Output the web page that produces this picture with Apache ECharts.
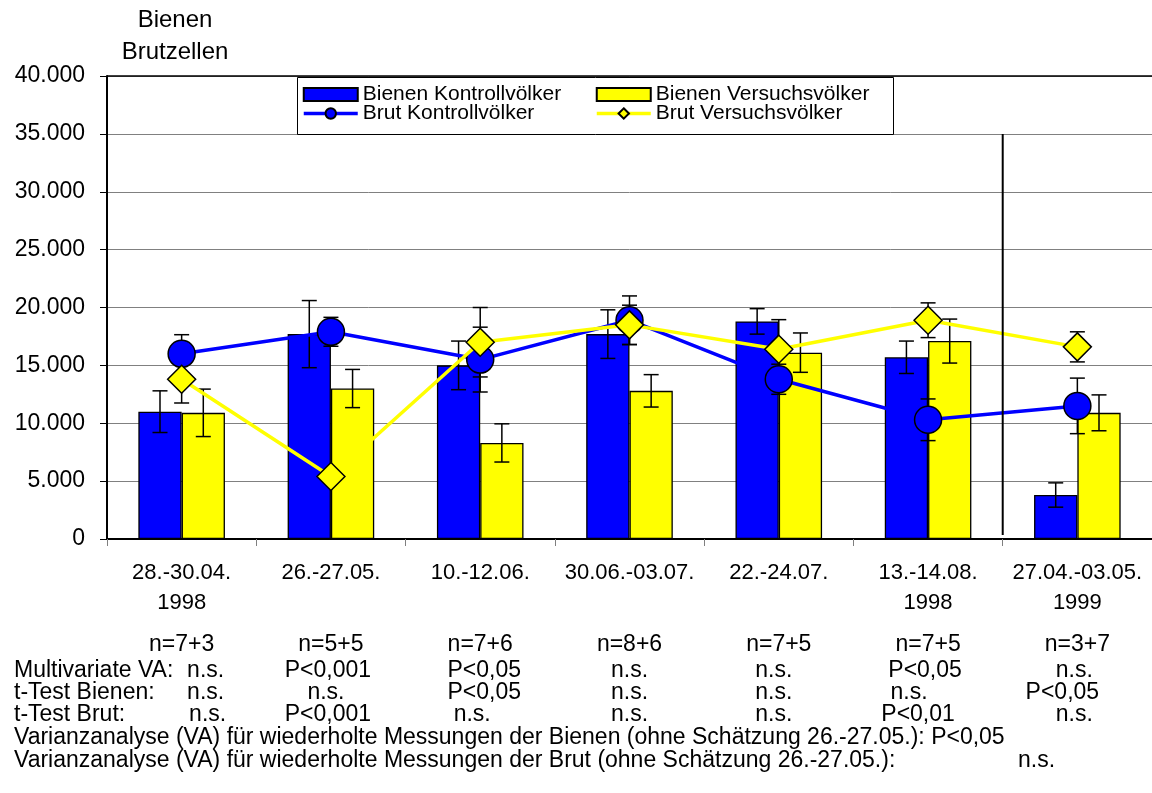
<!DOCTYPE html>
<html><head><meta charset="utf-8">
<script src="https://cdn.jsdelivr.net/npm/echarts@6/dist/echarts.min.js"></script>
<style>html,body{margin:0;padding:0;background:#fff}#c{width:1152px;height:793px}</style>
</head><body><div id="c"></div>
<script>
// ---------- data ----------
const categories = ['28.-30.04.\n1998','26.-27.05.','10.-12.06.','30.06.-03.07.','22.-24.07.','13.-14.08.\n1998','27.04.-03.05.\n1999'];
const bienenKontroll    = [11000, 17700, 15000, 17700, 18800, 15700, 3800];
const bienenKontrollErr = [1800, 2900, 2100, 2100, 1100, 1400, 1050];
const bienenVersuch     = [10900, 13000, 8300, 12800, 16100, 17100, 10900];
const bienenVersuchErr  = [2050, 1650, 1650, 1400, 1700, 1900, 1550];
const brutKontroll      = [16000, 17900, 15500, 18900, 13800, 10300, 11500];
const brutKontrollErr   = [1650, 1250, 2800, 2100, 1300, 1800, 2400];
const brutVersuch       = [13800, 5400, 17000, 18500, 16400, 18900, 16600];
const brutVersuchErr    = [2050, null, 3000, 1700, 2550, 1500, 1300];
const yTickLabels = ['0','5.000','10.000','15.000','20.000','25.000','30.000','35.000','40.000'];
const seriesNames = ['Bienen Kontrollvölker','Bienen Versuchsvölker','Brut Kontrollvölker','Brut Versuchsvölker'];
const titleLines = ['Bienen','Brutzellen'];
const nLabels = ['n=7+3','n=5+5','n=7+6','n=8+6','n=7+5','n=7+5','n=3+7'];
const rowLabels = ['Multivariate VA:','t-Test Bienen:','t-Test Brut:'];
const multiVA  = ['n.s.','P<0,001','P<0,05','n.s.','n.s.','P<0,05','n.s.'];
const tBienen  = ['n.s.','n.s.','P<0,05','n.s.','n.s.','n.s.','P<0,05'];
const tBrut    = ['n.s.','P<0,001','n.s.','n.s.','n.s.','P<0,01','n.s.'];
const varLine1 = 'Varianzanalyse (VA) für wiederholte Messungen der Bienen (ohne Schätzung 26.-27.05.): P<0,05';
const varLine2 = 'Varianzanalyse (VA) für wiederholte Messungen der Brut (ohne Schätzung 26.-27.05.):';
const varLine2Result = 'n.s.';

// ---------- layout (not data) ----------
const FONT = "'Liberation Sans', Arial, sans-serif";
const cellOffsets = [
  [24, -3, 4, 0, -5, -3, -3],
  [24, -5, 4, 0, -5, -19, -15],
  [26, -3, -8, 0, -5, -10, -3]
];
const rowY = [671, 693, 715];

const chart = echarts.init(document.getElementById('c'), null, {renderer:'canvas'});

function errData(vals, errs){
  const out = [];
  vals.forEach((v,i)=>{ if (errs[i] != null) out.push([i, v, errs[i]]); });
  return out;
}
function errRender(side){
  return function(params, api){
    const i = api.value(0), v = api.value(1), e = api.value(2);
    const band = api.size([1,0])[0];
    const dx = side * band * 0.58 / 4;
    const top = api.coord([i, v + e]);
    const bot = api.coord([i, v - e]);
    const x = top[0] + dx, h = 7.5;
    const st = {stroke:'#000', lineWidth:1.5};
    return {type:'group', children:[
      {type:'line', shape:{x1:x,y1:top[1],x2:x,y2:bot[1]}, style:st},
      {type:'line', shape:{x1:x-h,y1:top[1],x2:x+h,y2:top[1]}, style:st},
      {type:'line', shape:{x1:x-h,y1:bot[1],x2:x+h,y2:bot[1]}, style:st}
    ]};
  };
}

const legendCommon = {
  orient:'vertical', top:79, padding:[5,5,5,5], itemWidth:54, itemHeight:13, itemGap:-2,
  textStyle:{fontFamily:FONT, fontSize:21, color:'#000'},
  z:10, selectedMode:false
};

chart.setOption({
  animation:false,
  backgroundColor:'#fff',
  textStyle:{fontFamily:FONT},
  grid:{left:107, right:0, top:76, bottom:254, containLabel:false},
  legend:[
    Object.assign({left:297, data:[{name:seriesNames[0], icon:'rect'}, {name:seriesNames[2], lineStyle:{width:3.5}}]}, legendCommon),
    Object.assign({left:590, data:[{name:seriesNames[1], icon:'rect'}, {name:seriesNames[3], lineStyle:{width:3.5}}]}, legendCommon)
  ],
  xAxis:{
    type:'category', data:categories, boundaryGap:true,
    axisLine:{lineStyle:{color:'#000', width:2}},
    axisTick:{show:true, length:7, alignWithLabel:false, lineStyle:{color:'#808080', width:1}},
    axisLabel:{interval:0, fontFamily:FONT, fontSize:22, color:'#000', lineHeight:30, margin:19},
    splitLine:{show:false}
  },
  yAxis:{
    type:'value', min:0, max:40000, interval:5000,
    axisLine:{show:true, lineStyle:{color:'#000', width:2}},
    axisTick:{show:true, length:7, lineStyle:{color:'#000', width:1}},
    axisLabel:{fontFamily:FONT, fontSize:23, color:'#000', margin:22,
      formatter:(v)=>yTickLabels[Math.round(v/5000)]},
    splitLine:{show:true, lineStyle:{color:'#808080', width:1}}
  },
  series:[
    {name:seriesNames[0], type:'bar', data:bienenKontroll, barGap:'0%', barCategoryGap:'42%',
      itemStyle:{color:'#0000FF', borderColor:'#000', borderWidth:1.3}, z:2},
    {name:seriesNames[1], type:'bar', data:bienenVersuch, barGap:'0%', barCategoryGap:'42%',
      itemStyle:{color:'#FFFF00', borderColor:'#000', borderWidth:1.3}, z:2},
    {type:'custom', name:'errBK', data:errData(bienenKontroll, bienenKontrollErr), renderItem:errRender(-1),
      encode:{x:0, y:1}, z:3, silent:true},
    {type:'custom', name:'errBV', data:errData(bienenVersuch, bienenVersuchErr), renderItem:errRender(1),
      encode:{x:0, y:1}, z:3, silent:true},
    {type:'custom', name:'errRK', data:errData(brutKontroll, brutKontrollErr), renderItem:errRender(0),
      encode:{x:0, y:1}, z:3, silent:true},
    {type:'custom', name:'errRV', data:errData(brutVersuch, brutVersuchErr), renderItem:errRender(0),
      encode:{x:0, y:1}, z:3, silent:true},
    {name:seriesNames[2], type:'line', data:brutKontroll, symbol:'circle', symbolSize:27,
      lineStyle:{color:'#0000FF', width:3.5}, itemStyle:{color:'#0000FF', borderColor:'#000', borderWidth:1.5}, z:5},
    {name:seriesNames[3], type:'line', data:brutVersuch, symbol:'diamond', symbolSize:[28,28],
      lineStyle:{color:'#FFFF00', width:3.5}, itemStyle:{color:'#FFFF00', borderColor:'#000', borderWidth:1.5}, z:6}
  ]
});

// ---------- annotations ----------
const centers = categories.map((c,i)=>chart.convertToPixel({xAxisIndex:0}, i));
const yTop = chart.convertToPixel({yAxisIndex:0}, 40000);
const y35 = chart.convertToPixel({yAxisIndex:0}, 35000);
const y0 = chart.convertToPixel({yAxisIndex:0}, 0);
const xSplit = (centers[5] + centers[6]) / 2;
const gl = 107, gr = 1152;

const g = [];
const txt = (x, y, s, align, size) => ({type:'text', x:x, y:y, z:20,
  style:{text:s, fill:'#000', font:(size||23)+'px '+FONT, textAlign:align||'left', textVerticalAlign:'middle'}});

g.push(txt(175, 20, titleLines[0], 'center', 24));
g.push(txt(175, 52, titleLines[1], 'center', 24));
g.push({type:'line', z:8, shape:{x1:gl, y1:yTop, x2:gr, y2:yTop}, style:{stroke:'#000', lineWidth:1.5}});
g.push({type:'rect', z:9, shape:{x:297.5, y:77.5, width:596, height:57}, style:{fill:'#fff', stroke:'#000', lineWidth:1}});
g.push({type:'line', z:8, shape:{x1:xSplit, y1:y35, x2:xSplit, y2:y0-4}, style:{stroke:'#000', lineWidth:2}});

nLabels.forEach((s,i)=>g.push(txt(centers[i], 645, s, 'center')));
[multiVA, tBienen, tBrut].forEach((row, r)=>{
  g.push(txt(14, rowY[r], rowLabels[r], 'left'));
  row.forEach((s,i)=>g.push(txt(centers[i] + cellOffsets[r][i], rowY[r], s, 'center')));
});
g.push(txt(14, 738, varLine1, 'left'));
g.push(txt(14, 761, varLine2, 'left'));
g.push(txt(1018, 761, varLine2Result, 'left'));

chart.setOption({graphic:{elements:g}});
</script>
</body></html>
